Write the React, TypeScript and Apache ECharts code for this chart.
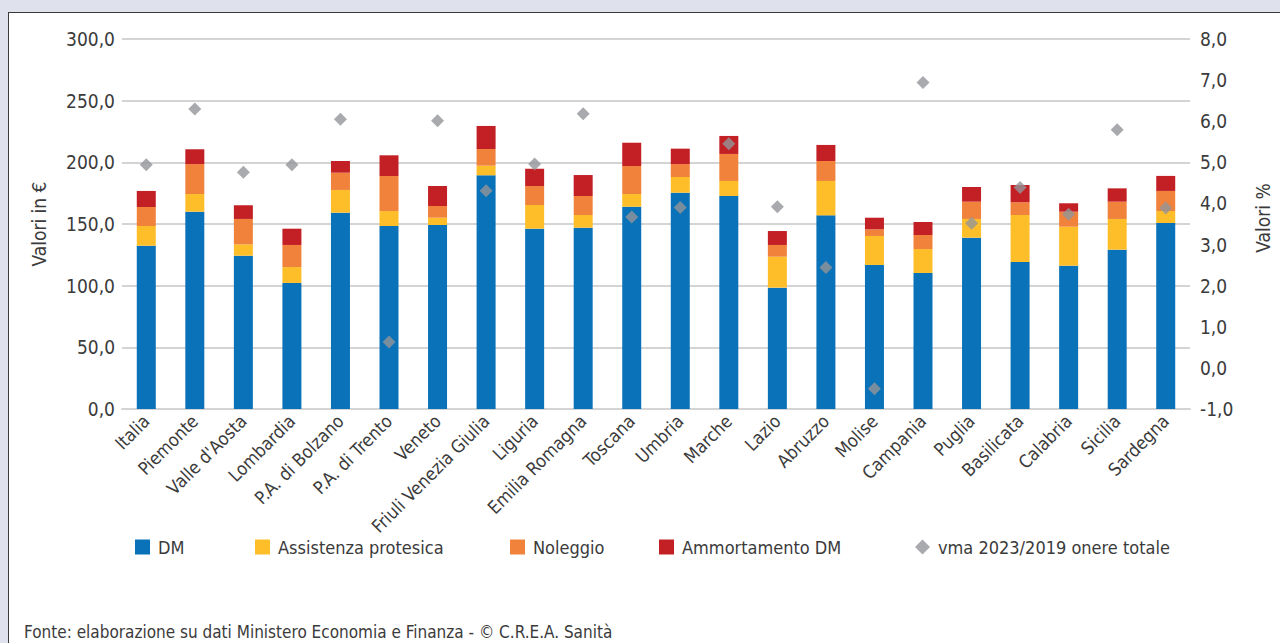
import React, { useEffect, useRef } from "react";
import * as echarts from "echarts";

const categories = [
  "Italia", "Piemonte", "Valle d'Aosta", "Lombardia", "P.A. di Bolzano", "P.A. di Trento",
  "Veneto", "Friuli Venezia Giulia", "Liguria", "Emilia Romagna", "Toscana", "Umbria",
  "Marche", "Lazio", "Abruzzo", "Molise", "Campania", "Puglia", "Basilicata", "Calabria",
  "Sicilia", "Sardegna",
];
const dm = [132.4, 160.0, 124.3, 102.2, 159.2, 148.4, 149.2, 189.5, 146.2, 147.0, 164.0, 175.4, 172.7, 98.4, 157.0, 116.8, 110.3, 138.9, 119.2, 116.2, 129.2, 150.8];
const assistenza = [16.0, 14.3, 9.2, 12.9, 18.4, 12.1, 5.9, 7.8, 19.2, 10.3, 10.3, 12.7, 12.2, 25.1, 27.9, 23.5, 19.4, 15.2, 38.1, 31.6, 24.9, 9.7];
const noleggio = [15.4, 24.3, 20.6, 17.9, 14.0, 28.4, 9.5, 13.5, 15.4, 15.4, 22.7, 10.5, 21.9, 9.5, 16.2, 5.4, 11.4, 14.0, 10.3, 12.2, 14.0, 16.3];
const ammortamento = [13.0, 12.0, 11.1, 13.2, 9.5, 16.8, 16.2, 18.7, 14.0, 17.0, 18.9, 12.5, 14.6, 11.3, 13.0, 9.4, 10.5, 11.9, 14.0, 6.8, 10.8, 12.2];
const vma = [4.94, 6.30, 4.76, 4.94, 6.05, 0.63, 6.01, 4.31, 4.96, 6.18, 3.67, 3.90, 5.45, 3.92, 2.44, -0.51, 6.94, 3.52, 4.39, 3.74, 5.79, 3.89];

const FONT = "'DejaVu Sans Condensed', 'Liberation Sans Narrow', sans-serif";
const TXT = "#3b3b3b";
const FS = 18;

const fmt = (v: number) => v.toFixed(1).replace(".", ",");

export default function App() {
  const ref = useRef<HTMLDivElement>(null);
  useEffect(() => {
    document.body.style.margin = "0";
    const chart = echarts.init(ref.current!, undefined, { renderer: "svg" });
    const barBase = { type: "bar" as const, stack: "tot", barWidth: 19, yAxisIndex: 0 };
    const legendCommon = {
      top: 538,
      padding: 0,
      itemWidth: 15,
      itemHeight: 15,
      textStyle: { fontFamily: FONT, fontSize: FS, color: TXT, padding: [0, 0, 0, 3] },
    };
    chart.setOption({
      animation: false,
      backgroundColor: "transparent",
      textStyle: { fontFamily: FONT },
      grid: { left: 122, right: 90, top: 39, bottom: 234, containLabel: false },
      legend: [
        { ...legendCommon, left: 135, data: [{ name: "DM", icon: "rect" }] },
        { ...legendCommon, left: 255, data: [{ name: "Assistenza protesica", icon: "rect" }] },
        { ...legendCommon, left: 510, data: [{ name: "Noleggio", icon: "rect" }] },
        { ...legendCommon, left: 659, data: [{ name: "Ammortamento DM", icon: "rect" }] },
        { ...legendCommon, left: 915, data: [{ name: "vma 2023/2019 onere totale", icon: "diamond" }] },
      ],
      xAxis: {
        type: "category",
        data: categories,
        axisLine: { show: true, lineStyle: { color: "#d4d4d4", width: 2 } },
        axisTick: { show: false },
        axisLabel: {
          interval: 0,
          rotate: 45,
          margin: 9,
          fontFamily: FONT,
          fontSize: FS,
          color: TXT,
        },
      },
      yAxis: [
        {
          type: "value",
          min: 0,
          max: 300,
          interval: 50,
          axisLine: { show: false },
          axisTick: { show: false },
          splitLine: { lineStyle: { color: "#d4d4d4", width: 2 } },
          axisLabel: { formatter: fmt, margin: 7, fontFamily: FONT, fontSize: FS + 1, color: TXT },
        },
        {
          type: "value",
          min: -1,
          max: 8,
          interval: 1,
          position: "right",
          axisLine: { show: false },
          axisTick: { show: false },
          splitLine: { show: false },
          axisLabel: { formatter: fmt, margin: 10, fontFamily: FONT, fontSize: FS + 1, color: TXT },
        },
      ],
      series: [
        { ...barBase, name: "DM", data: dm, itemStyle: { color: "#0a72b8" } },
        { ...barBase, name: "Assistenza protesica", data: assistenza, itemStyle: { color: "#fdbe29" } },
        { ...barBase, name: "Noleggio", data: noleggio, itemStyle: { color: "#f0823c" } },
        { ...barBase, name: "Ammortamento DM", data: ammortamento, itemStyle: { color: "#c32026" } },
        {
          type: "scatter",
          name: "vma 2023/2019 onere totale",
          yAxisIndex: 1,
          data: vma,
          symbol: "diamond",
          symbolSize: 13,
          itemStyle: { color: "#939598" },
          z: 5,
        },
      ],
      graphic: [
        {
          type: "text",
          x: 39,
          y: 224,
          rotation: Math.PI / 2,
          style: { text: "Valori in €", fontFamily: FONT, fontSize: FS + 1, fill: TXT, align: "center", verticalAlign: "middle" },
        },
        {
          type: "text",
          x: 1263,
          y: 218,
          rotation: Math.PI / 2,
          style: { text: "Valori %", fontFamily: FONT, fontSize: FS + 1, fill: TXT, align: "center", verticalAlign: "middle" },
        },
        {
          type: "text",
          x: 24,
          y: 632,
          style: {
            text: "Fonte: elaborazione su dati Ministero Economia e Finanza - © C.R.E.A. Sanità",
            fontFamily: FONT,
            fontSize: 17,
            fill: TXT,
            align: "left",
            verticalAlign: "middle",
          },
        },
      ],
    });
    return () => chart.dispose();
  }, []);

  return (
    <div style={{ position: "fixed", left: 0, top: 0, width: 1280, height: 643, background: "#dfe1ed", overflow: "hidden" }}>
      <div
        style={{
          position: "absolute",
          left: 8,
          top: 12,
          width: 1290,
          height: 650,
          background: "#ffffff",
          borderLeft: "1px solid #3a3a3a",
          borderTop: "1px solid #3a3a3a",
        }}
      />
      <div ref={ref} style={{ position: "absolute", left: 0, top: 0, width: 1280, height: 643 }} />
    </div>
  );
}
